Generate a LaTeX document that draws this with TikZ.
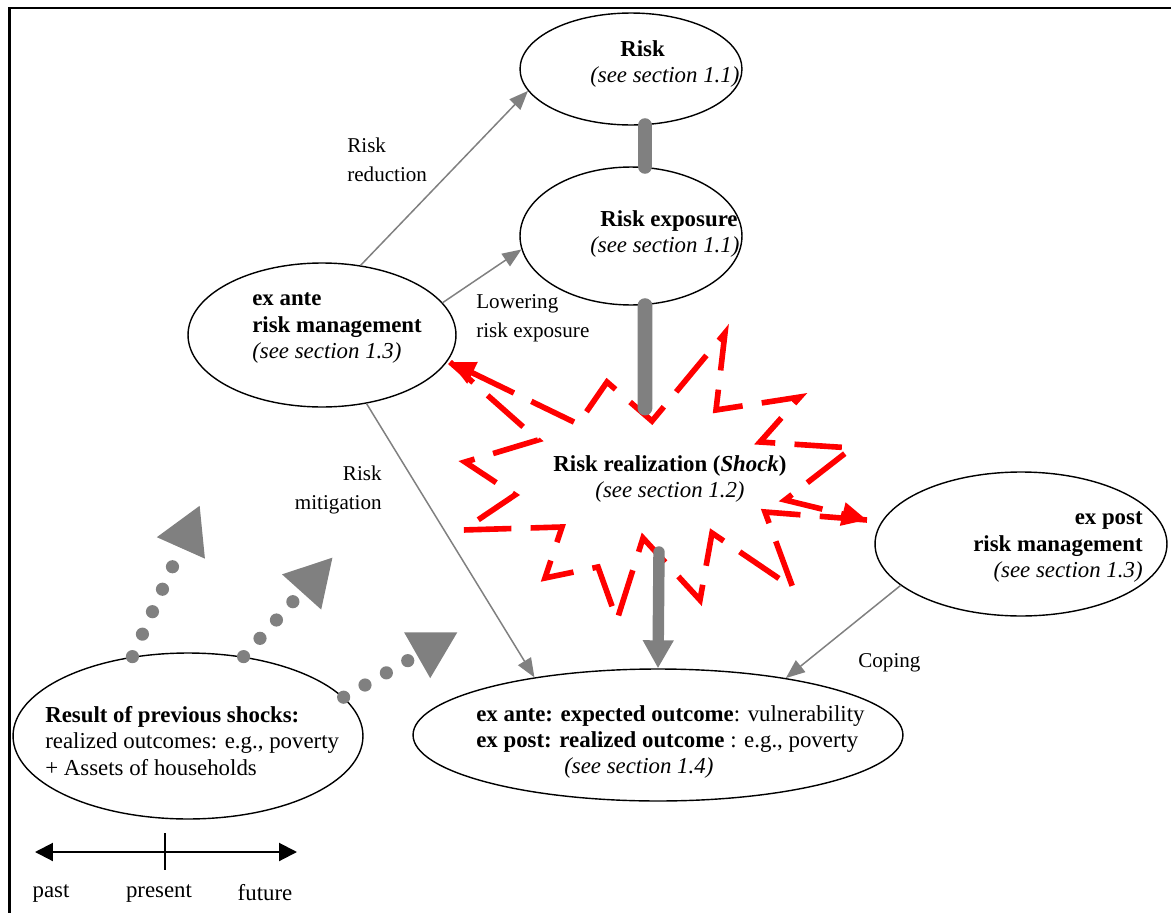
\documentclass[tikz,border=0pt]{standalone}
\usepackage{fontspec}
\setmainfont{Liberation Serif}
\usetikzlibrary{shapes.geometric,arrows.meta}
\definecolor{linkgray}{RGB}{128,128,128}
\definecolor{shockred}{RGB}{255,0,0}
\tikzstyle{stage} = [
    draw=black,
    line width=0.8pt,
    ellipse,
    inner sep=0pt
    ]
\tikzstyle{stagetext} = [
    font=\fontsize{13}{15}\selectfont,
    inner sep=0pt
    ]
\tikzstyle{linklabel} = [
    font=\fontsize{12}{16.5}\selectfont,
    inner sep=0pt
    ]
\tikzstyle{thinlink} = [
    draw=linkgray,
    line width=0.85pt,
    -{Triangle[length=0.38cm,width=0.3cm]}
    ]
\tikzstyle{bar} = [
    draw=linkgray,
    line width=8.5pt,
    line cap=round
    ]
\tikzstyle{shockarrow} = [
    draw=linkgray,
    line width=6.5pt,
    line cap=round,
    -{Triangle[length=0.56cm,width=0.58cm]}
    ]
\tikzstyle{dotlink} = [
    draw=linkgray,
    line width=7.5pt,
    line cap=round,
    dash pattern=on 0pt off 14pt,
    -{Triangle[length=0.94cm,width=0.98cm]}
    ]
\tikzstyle{shock} = [
    draw=shockred,
    line width=3.2pt,
    dash pattern=on 27pt off 11pt
    ]
\tikzstyle{timeline} = [
    draw=black,
    line width=1.2pt,
    {Triangle[length=0.36cm,width=0.36cm]}-{Triangle[length=0.36cm,width=0.36cm]}
    ]

\begin{document}
\begin{tikzpicture}[x=0.02cm, y=-0.02cm]
\useasboundingbox (0,0) rectangle (1171,913);
% frame
\draw[line width=1.7pt] (9.5,913) -- (9.5,8) -- (1171,8);

% stages
\node[stage, minimum width=4.44cm, minimum height=2.24cm] (risk) at (631,69) {};
\node[stage, minimum width=4.44cm, minimum height=2.76cm] (exposure) at (631,236) {};
\node[stage, minimum width=5.36cm, minimum height=2.88cm] (exante) at (322,335) {};
\node[stage, minimum width=5.84cm, minimum height=2.88cm] (expost) at (1021,544) {};
\node[stage, minimum width=9.8cm, minimum height=2.64cm] (outcome) at (658,735) {};
\node[stage, minimum width=7cm, minimum height=3.32cm] (result) at (188,736) {};

\node[stagetext, align=left, anchor=west] (risktext) at (590,64)
    {\hspace{0.6cm}\textbf{Risk}\\\textit{(see section 1.1)}};
\node[stagetext, align=left, anchor=west] (exposuretext) at (590,234)
    {\hspace{0.2cm}\textbf{Risk exposure}\\\textit{(see section 1.1)}};
\node[stagetext, align=left, anchor=west] (exantetext) at (252,328)
    {\textbf{ex ante}\\\textbf{risk management}\\\textit{(see section 1.3)}};
\node[stagetext, align=right, anchor=east] (exposttext) at (1143,547)
    {\textbf{ex post}\\\textbf{risk management}\\\textit{(see section 1.3)}};
\node[stagetext, align=left, anchor=west] (outcometext) at (476,742)
    {\textbf{ex ante: expected outcome}: vulnerability\\
     \textbf{ex post: realized outcome }: e.g., poverty\\
     \hspace{1.76cm}\textit{(see section 1.4)}};
\node[stagetext, align=left, anchor=west] (resulttext) at (45,741)
    {\textbf{Result of previous shocks:}\\realized outcomes: e.g., poverty\\+ Assets of households};

% the shock
\draw[shock, {Triangle[length=0.5cm,width=0.45cm]}-{Triangle[length=0.5cm,width=0.45cm]}]
    (450,362) -- (578,424) -- (607,382) -- (652,421) -- (725,333) -- (716,410)
    -- (800,397) -- (760,442) -- (852,448) -- (785,500) -- (867,520);
\draw[shock]
    (867,520) -- (765,512) -- (793,588) -- (712,533) -- (700,600) -- (643,538)
    -- (617,620) -- (598,567) -- (545,578) -- (562,527) -- (463,530) -- (515,495)
    -- (465,462) -- (538,440) -- (450,362);
\node[stagetext, align=center] (shocktext) at (670,479)
    {\textbf{Risk realization (\textit{Shock})}\\\textit{(see section 1.2)}};

% links
\coordinate (shocktop) at (645,408);
\coordinate (shockbase) at (659,552);
\draw[bar] ([xshift=0.28cm]risk.south) -- ([xshift=0.28cm]exposure.north);
\draw[bar] ([xshift=0.28cm]exposure.south) -- (shocktop);
\draw[shockarrow] (shockbase) -- (outcome.north);

\draw[thinlink] (exante.61) -- (risk.192);
\draw[thinlink] (exante.15) -- (exposure.187);
\draw[thinlink] (exante.-57) -- (outcome.155);
\draw[thinlink] (expost.199) -- (outcome.24);

\node[linklabel, align=left, anchor=west] (reduction) at (347,160) {Risk\\reduction};
\node[linklabel, align=left, anchor=west] (lowering) at (476,318) {Lowering\\risk exposure};
\node[linklabel, align=right, anchor=east] (mitigation) at (382,490) {Risk\\mitigation};
\node[linklabel, anchor=west] (coping) at (858,663) {Coping};

% previous shocks feed forward
\coordinate (dottip1) at (200,505);
\coordinate (dottip2) at (333,557);
\coordinate (dottip3) at (458,632);
\draw[dotlink] (result.125) -- (dottip1);
\draw[dotlink] (result.55) -- (dottip2);
\draw[dotlink] (result.14) -- (dottip3);

% time axis
\coordinate (tpast) at (35,852);
\coordinate (tnow) at (165,852);
\coordinate (tfuture) at (297,852);
\draw[timeline] (tpast) -- (tfuture);
\draw[line width=1.7pt] ([yshift=0.38cm]tnow) -- ([yshift=-0.36cm]tnow);
\node[stagetext] (past) at (51,893) {past};
\node[stagetext] (present) at (159,893) {present};
\node[stagetext] (future) at (265,893) {future};
\end{tikzpicture}
\end{document}
